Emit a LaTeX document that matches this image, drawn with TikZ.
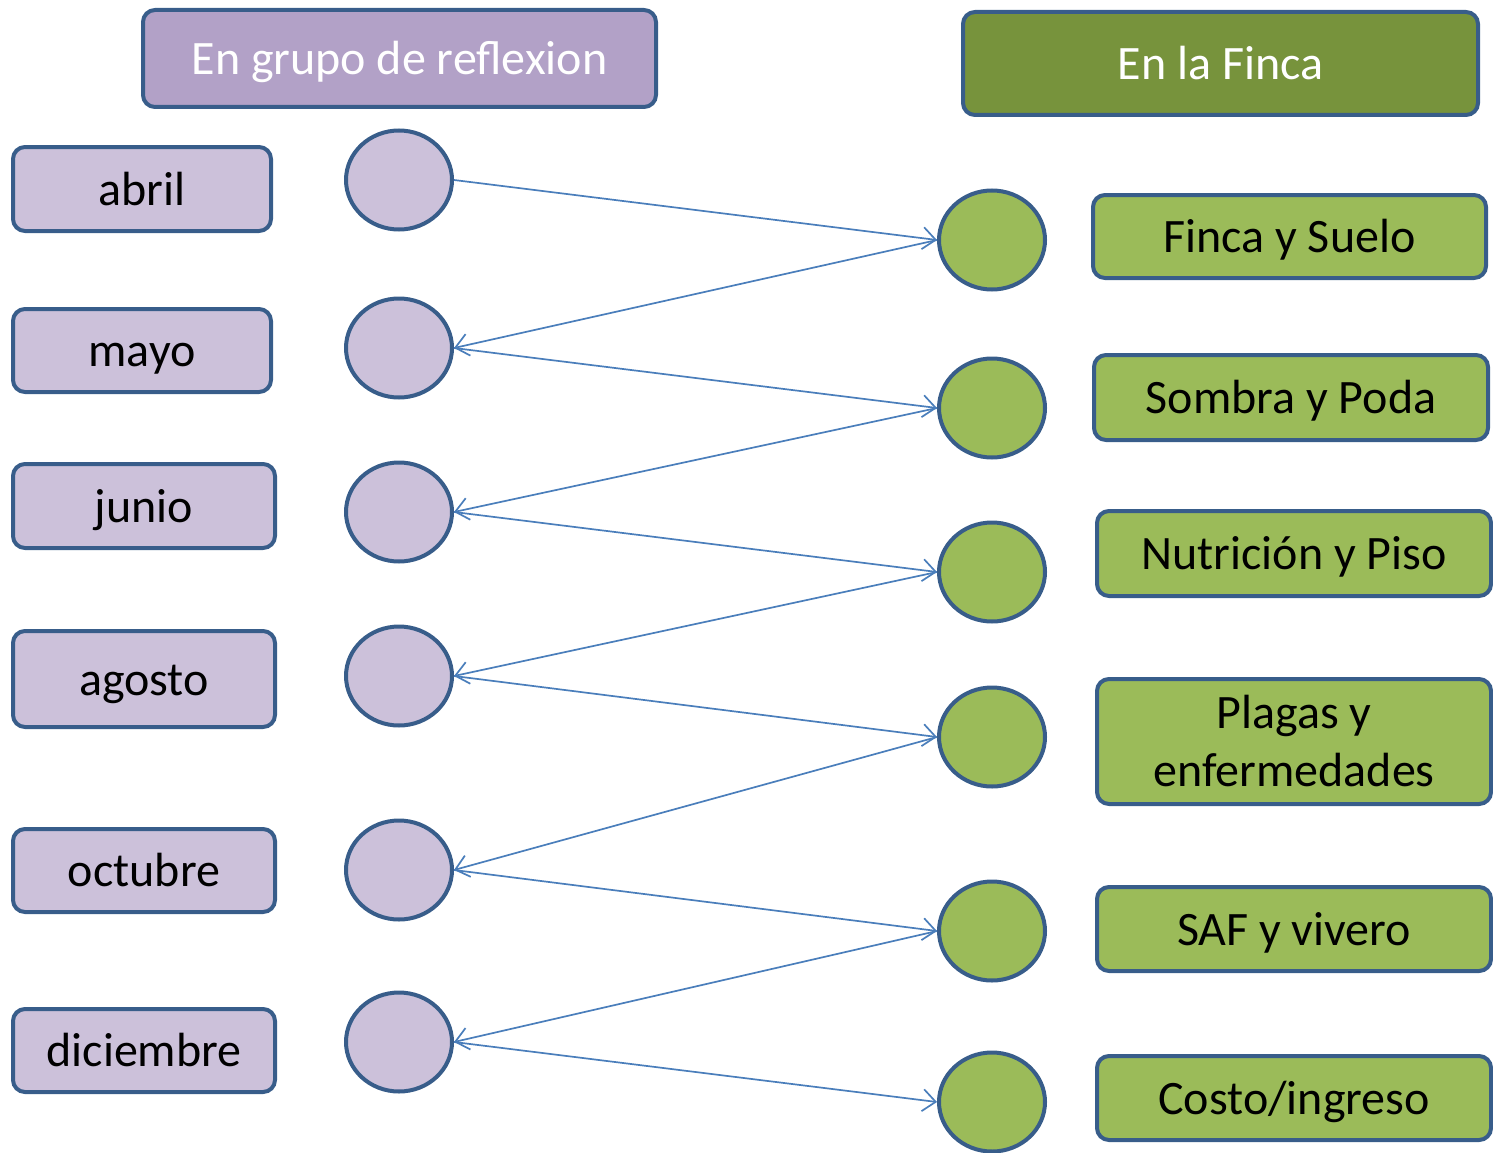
\documentclass[tikz,border=0pt]{standalone}
\usepackage{fontspec}
\setmainfont{Carlito}
\usepackage{xcolor}
\usetikzlibrary{arrows.meta,shapes.geometric}
\definecolor{rimblue}{HTML}{385D8A}
\definecolor{linkblue}{HTML}{4A7EBB}
\definecolor{hdrpurple}{HTML}{B2A1C7}
\definecolor{lightpurple}{HTML}{CCC1DA}
\definecolor{hdrgreen}{HTML}{77933C}
\definecolor{lightgreen}{HTML}{9BBB59}
\tikzset{
	box/.style={
			draw=rimblue, line width=4pt, rounded corners=12pt,
			inner sep=0pt, align=center,
			text height=40pt, text depth=8pt,
			font=\fontsize{48}{58}\selectfont
		},
	dot/.style={
			draw=rimblue, line width=4pt, ellipse, inner sep=0pt,
			minimum width=106pt, minimum height=99pt
		},
	link/.style={
			draw=linkblue, line width=1.7pt,
			-{Straight Barb[length=13pt,width=22pt]}
		}
}

\begin{document}
\begin{tikzpicture}[x=1pt,y=-1pt]
			\useasboundingbox (0,0) rectangle (1493,1153);

			% Headers
			\node[box, fill=hdrpurple, text=white, minimum width=513pt, minimum height=97pt] (grupo) at (399.5,58.5) {En grupo de reflexion};
			\node[box, fill=hdrgreen, text=white, minimum width=515pt, minimum height=103pt] (finca) at (1220.5,63.5) {En la Finca};

			% Months
			\node[box, fill=lightpurple, minimum width=258pt, minimum height=84pt] (abril) at (142,189) {abril};
			\node[box, fill=lightpurple, minimum width=258pt, minimum height=83pt] (mayo) at (142,350.5) {mayo};
			\node[box, fill=lightpurple, minimum width=262pt, minimum height=84pt] (junio) at (144,506) {junio};
			\node[box, fill=lightpurple, minimum width=262pt, minimum height=96pt] (agosto) at (144,679) {agosto};
			\node[box, fill=lightpurple, minimum width=262pt, minimum height=83pt] (octubre) at (144,870.5) {octubre};
			\node[box, fill=lightpurple, minimum width=262pt, minimum height=83pt] (diciembre) at (144,1050.5) {diciembre};

			% Reflection circles
			\node[dot, fill=lightpurple] (pAbril) at (399,180) {};
			\node[dot, fill=lightpurple] (pMayo) at (399,348) {};
			\node[dot, fill=lightpurple] (pJunio) at (399,512) {};
			\node[dot, fill=lightpurple] (pAgosto) at (399,676) {};
			\node[dot, fill=lightpurple] (pOctubre) at (399,870) {};
			\node[dot, fill=lightpurple] (pDiciembre) at (399,1042) {};

			% Farm circles
			\node[dot, fill=lightgreen] (gSuelo) at (992,240) {};
			\node[dot, fill=lightgreen] (gPoda) at (992,408) {};
			\node[dot, fill=lightgreen] (gPiso) at (992,572) {};
			\node[dot, fill=lightgreen] (gPlagas) at (992,737) {};
			\node[dot, fill=lightgreen] (gVivero) at (992,931) {};
			\node[dot, fill=lightgreen] (gCosto) at (992,1102) {};

			% Topics
			\node[box, fill=lightgreen, minimum width=393pt, minimum height=83pt] (suelo) at (1289.5,236.5) {Finca y Suelo};
			\node[box, fill=lightgreen, minimum width=394pt, minimum height=85pt] (poda) at (1291,397.5) {Sombra y Poda};
			\node[box, fill=lightgreen, minimum width=394pt, minimum height=85pt] (piso) at (1294,553.5) {Nutrición y Piso};
			\node[box, fill=lightgreen, text height=, text depth=, minimum width=394pt, minimum height=125pt] (plagas) at (1294,741.5) {Plagas y\\enfermedades};
			\node[box, fill=lightgreen, minimum width=394pt, minimum height=84pt] (vivero) at (1294,929) {SAF y vivero};
			\node[box, fill=lightgreen, minimum width=394pt, minimum height=84pt] (costo) at (1294,1098) {Costo/ingreso};

			% Zigzag links
			\draw[link] (pAbril.east) -- (gSuelo.west);
			\draw[link] (gSuelo.west) -- (pMayo.east);
			\draw[link] (pMayo.east) -- (gPoda.west);
			\draw[link] (gPoda.west) -- (pJunio.east);
			\draw[link] (pJunio.east) -- (gPiso.west);
			\draw[link] (gPiso.west) -- (pAgosto.east);
			\draw[link] (pAgosto.east) -- (gPlagas.west);
			\draw[link] (gPlagas.west) -- (pOctubre.east);
			\draw[link] (pOctubre.east) -- (gVivero.west);
			\draw[link] (gVivero.west) -- (pDiciembre.east);
			\draw[link] (pDiciembre.east) -- (gCosto.west);
		\end{tikzpicture}
\end{document}
